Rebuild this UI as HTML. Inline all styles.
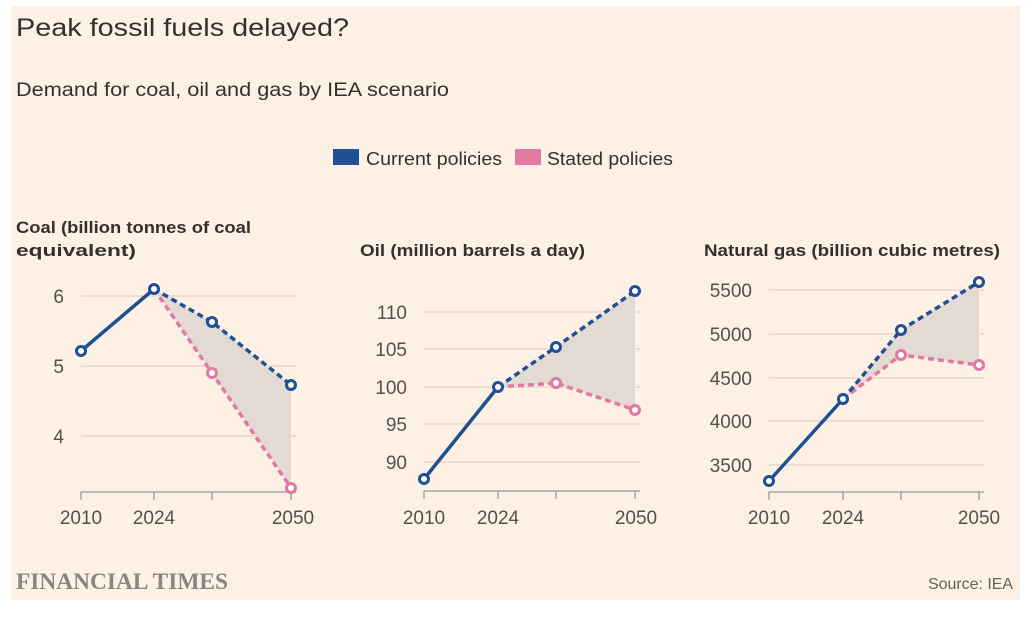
<!DOCTYPE html>
<html><head><meta charset="utf-8"><style>
body{margin:0;background:#fff;}
svg text{font-family:"Liberation Sans",sans-serif;}
</style></head><body>
<svg width="1036" height="618" xmlns="http://www.w3.org/2000/svg">
<rect x="11" y="6" width="1009" height="594" fill="#FDF1E6"/>
<text x="16" y="36" font-size="25" fill="#33302e" textLength="333" lengthAdjust="spacingAndGlyphs">Peak fossil fuels delayed?</text>
<text x="16" y="96" font-size="19" fill="#33302e" textLength="433" lengthAdjust="spacingAndGlyphs">Demand for coal, oil and gas by IEA scenario</text>
<rect x="333" y="149" width="26" height="16" fill="#1f4f94"/>
<text x="366" y="165" font-size="18" fill="#33302e" textLength="136" lengthAdjust="spacingAndGlyphs">Current policies</text>
<rect x="515" y="149" width="26" height="16" fill="#e07aa0"/>
<text x="547" y="165" font-size="18" fill="#33302e" textLength="126" lengthAdjust="spacingAndGlyphs">Stated policies</text>
<g font-size="17" font-weight="bold" fill="#33302e">
<text x="16" y="233" textLength="235" lengthAdjust="spacingAndGlyphs">Coal (billion tonnes of coal</text>
<text x="16" y="256" textLength="120" lengthAdjust="spacingAndGlyphs">equivalent)</text>
<text x="360" y="256" textLength="225" lengthAdjust="spacingAndGlyphs">Oil (million barrels a day)</text>
<text x="704" y="256" textLength="296" lengthAdjust="spacingAndGlyphs">Natural gas (billion cubic metres)</text>
</g>
<g stroke="#d9cdc2" stroke-width="1">
<line x1="81" y1="296" x2="296" y2="296"/><line x1="81" y1="366" x2="296" y2="366"/><line x1="81" y1="436" x2="296" y2="436"/>
<line x1="424" y1="312" x2="640" y2="312"/><line x1="424" y1="349" x2="640" y2="349"/><line x1="424" y1="387" x2="640" y2="387"/><line x1="424" y1="424" x2="640" y2="424"/><line x1="424" y1="462" x2="640" y2="462"/>
<line x1="769" y1="290" x2="984" y2="290"/><line x1="769" y1="334" x2="984" y2="334"/><line x1="769" y1="378" x2="984" y2="378"/><line x1="769" y1="421" x2="984" y2="421"/><line x1="769" y1="465" x2="984" y2="465"/>
</g>
<g stroke="#999" stroke-width="1.3" fill="none">
<path d="M81 492H296M81 492v8M154 492v8M212 492v8M291 492v8"/>
<path d="M424 491H640M424 491v8M498 491v8M556 491v8M635 491v8"/>
<path d="M769 492H984M769 492v8M843 492v8M901 492v8M979 492v8"/>
</g>
<g font-size="19" fill="#55504c">
<g text-anchor="end"><text x="64" y="303">6</text><text x="64" y="373">5</text><text x="64" y="443">4</text>
<text x="407" y="319">110</text><text x="407" y="356">105</text><text x="407" y="394">100</text><text x="407" y="431">95</text><text x="407" y="469">90</text>
<text x="752" y="297">5500</text><text x="752" y="341">5000</text><text x="752" y="385">4500</text><text x="752" y="428">4000</text><text x="752" y="472">3500</text></g>
<g text-anchor="middle"><text x="81" y="524">2010</text><text x="154" y="524">2024</text><text x="293" y="524">2050</text>
<text x="424" y="524">2010</text><text x="498" y="524">2024</text><text x="636" y="524">2050</text>
<text x="769" y="524">2010</text><text x="843" y="524">2024</text><text x="979" y="524">2050</text></g>
</g>
<g fill="#e3dad3">
<path d="M154 289L212 322L291 385L291 488L212 373Z"/>
<path d="M498 387L556 347L635 291L635 410L556 383Z"/>
<path d="M843 399L901 330L979 282L979 365L901 355Z"/>
</g>
<g fill="none" stroke-width="3.5">
<path d="M154 289L212 373L291 488" stroke="#e07aa0" stroke-dasharray="6,4"/>
<path d="M498 387L556 383L635 410" stroke="#e07aa0" stroke-dasharray="6,4"/>
<path d="M843 399L901 355L979 365" stroke="#e07aa0" stroke-dasharray="6,4"/>
<path d="M154 289L212 322L291 385" stroke="#1f4f94" stroke-dasharray="6,4"/>
<path d="M498 387L556 347L635 291" stroke="#1f4f94" stroke-dasharray="6,4"/>
<path d="M843 399L901 330L979 282" stroke="#1f4f94" stroke-dasharray="6,4"/>
<path d="M81 351L154 289" stroke="#1f4f94"/>
<path d="M424 479L498 387" stroke="#1f4f94"/>
<path d="M769 481L843 399" stroke="#1f4f94"/>
</g>
<g fill="#fff" stroke-width="3">
<g stroke="#e07aa0"><circle cx="212" cy="373" r="4.5"/><circle cx="291" cy="488" r="4.5"/><circle cx="556" cy="383" r="4.5"/><circle cx="635" cy="410" r="4.5"/><circle cx="901" cy="355" r="4.5"/><circle cx="979" cy="365" r="4.5"/></g>
<g stroke="#1f4f94"><circle cx="81" cy="351" r="4.5"/><circle cx="154" cy="289" r="4.5"/><circle cx="212" cy="322" r="4.5"/><circle cx="291" cy="385" r="4.5"/>
<circle cx="424" cy="479" r="4.5"/><circle cx="498" cy="387" r="4.5"/><circle cx="556" cy="347" r="4.5"/><circle cx="635" cy="291" r="4.5"/>
<circle cx="769" cy="481" r="4.5"/><circle cx="843" cy="399" r="4.5"/><circle cx="901" cy="330" r="4.5"/><circle cx="979" cy="282" r="4.5"/></g>
</g>
<text x="16" y="589" font-size="23" fill="#8a8580" font-weight="bold" style="font-family:'Liberation Serif',serif" textLength="212" lengthAdjust="spacingAndGlyphs">FINANCIAL TIMES</text>
<text x="1013" y="589" text-anchor="end" font-size="16" fill="#66605c" textLength="85" lengthAdjust="spacingAndGlyphs">Source: IEA</text>
</svg>
</body></html>
